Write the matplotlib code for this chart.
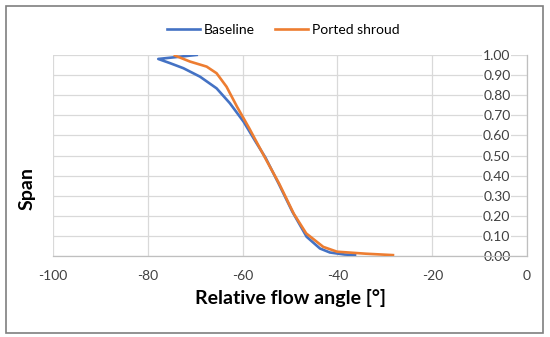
import numpy as np
import matplotlib
matplotlib.use("Agg")
import matplotlib.pyplot as plt
from matplotlib.patches import Rectangle

plt.rcParams['font.family'] = ['Lato', 'DejaVu Sans']
plt.rcParams['axes.unicode_minus'] = False

# data
baseline_angle = [-69.7, -77.8, -75.3, -72.5, -69.0, -65.5, -62.7, -59.8, -57.3, -55.2,
                  -52.4, -49.5, -46.5, -43.7, -41.6, -38.5, -36.3]
baseline_span = [1.00, 0.98, 0.959, 0.934, 0.892, 0.834, 0.76, 0.668, 0.57, 0.49,
                 0.36, 0.22, 0.096, 0.038, 0.018, 0.008, 0.005]

ported_angle = [-74.3, -71.1, -67.6, -65.5, -63.4, -61.2, -58.6, -56.9, -55.3, -52.3,
                -49.2, -46.6, -43.0, -40.1, -34.0, -28.3]
ported_span = [0.997, 0.967, 0.942, 0.909, 0.842, 0.743, 0.635, 0.56, 0.49, 0.36,
               0.21, 0.113, 0.046, 0.022, 0.012, 0.005]

x_ticks = [-100, -80, -60, -40, -20, 0]
y_ticks = np.round(np.arange(0, 1.01, 0.1), 2)

fig = plt.figure(figsize=(5.5, 3.37), dpi=100)
ax = fig.add_axes([0.0964, 0.240, 0.862, 0.597])

ax.plot(baseline_angle, baseline_span, color='#4472C4', lw=1.9, label='Baseline', zorder=3)
ax.plot(ported_angle, ported_span, color='#ED7D31', lw=1.9, label='Ported shroud', zorder=3)

ax.set_xlim(-100, 0)
ax.set_ylim(0, 1)
ax.set_xticks(x_ticks)
ax.set_yticks(y_ticks)
ax.set_yticklabels([f"{v:.2f}" for v in y_ticks])
ax.grid(True, color='#d9d9d9', lw=0.9, zorder=0)
ax.set_axisbelow(True)

for s in ['top', 'left']:
    ax.spines[s].set_visible(False)
for s in ['bottom', 'right']:
    ax.spines[s].set_color('#bfbfbf')
    ax.spines[s].set_linewidth(0.9)

ax.tick_params(axis='x', length=0, pad=10, labelsize=10, colors='#404040')
ax.tick_params(axis='y', left=False, labelleft=False, right=True, labelright=True,
               length=0, pad=-12, labelsize=10, colors='#404040')
for lbl in ax.get_yticklabels():
    lbl.set_horizontalalignment('right')
    lbl.set_bbox(dict(facecolor='white', edgecolor='none', pad=0.5))

ax.set_xlabel('Relative flow angle [°]', fontsize=14, fontweight='bold', labelpad=5)
fig.text(0.049, 0.44, 'Span', rotation=90, fontsize=14, fontweight='bold', ha='center', va='center')

fig.legend(loc='center', bbox_to_anchor=(0.515, 0.911), ncol=2, frameon=False,
           fontsize=10, handlelength=2.4, handletextpad=0.3, columnspacing=1.4)

fig.patches.append(Rectangle((0.011, 0.012), 0.976, 0.970, transform=fig.transFigure,
                             fill=False, edgecolor='#7f7f7f', lw=1.2))

fig.savefig('out.png', dpi=100)
